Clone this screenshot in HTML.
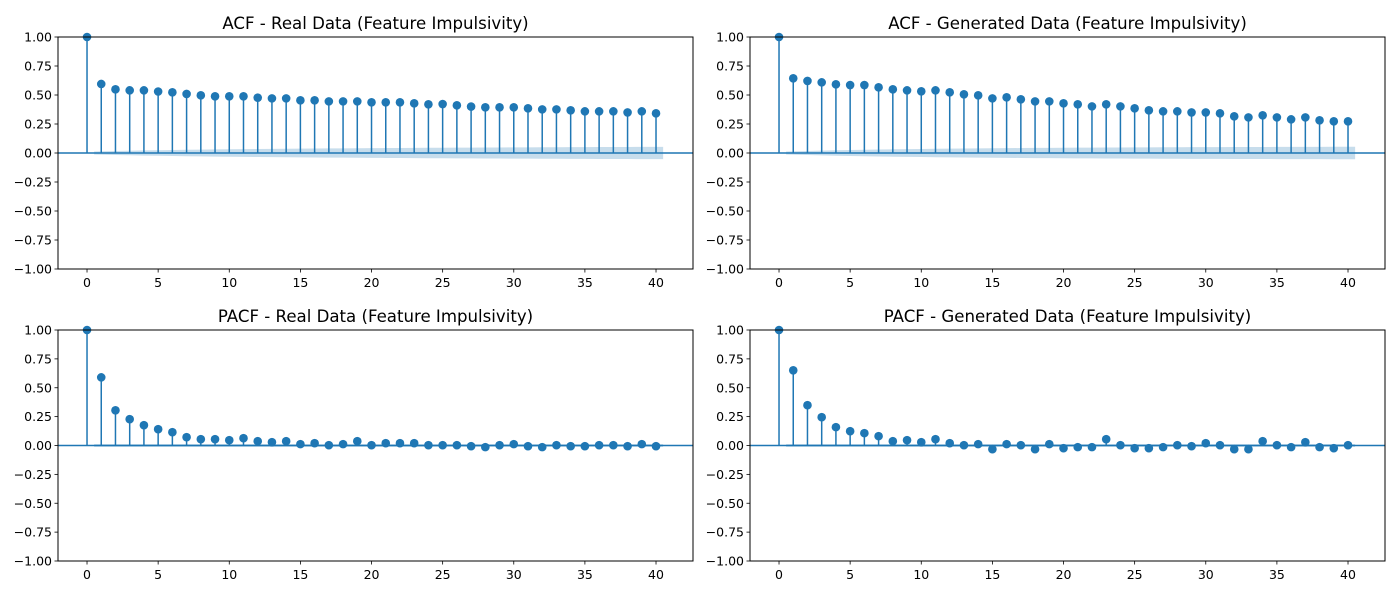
<!DOCTYPE html>
<html><head><meta charset="utf-8"><style>
body{margin:0;background:#fff;font-family:"Liberation Sans","DejaVu Sans",sans-serif}
svg text{font-family:"DejaVu Sans","Liberation Sans",sans-serif}
</style></head><body>
<svg id="fig" width="1400" height="600" xmlns="http://www.w3.org/2000/svg"></svg>
<script>
const lags = [0,1,2,3,4,5,6,7,8,9,10,11,12,13,14,15,16,17,18,19,20,21,22,23,24,25,26,27,28,29,30,31,32,33,34,35,36,37,38,39,40];
const acfReal = [1,.595,.549,.54,.54,.53,.523,.509,.497,.489,.489,.489,.477,.471,.471,.454,.454,.445,.445,.445,.437,.437,.437,.428,.42,.422,.411,.40,.394,.394,.394,.385,.376,.376,.368,.359,.359,.359,.35,.359,.342];
const acfGen = [1,.644,.621,.609,.592,.586,.586,.566,.549,.54,.532,.54,.523,.506,.497,.471,.48,.463,.445,.445,.428,.42,.402,.42,.402,.385,.368,.359,.359,.35,.35,.342,.316,.307,.325,.307,.29,.307,.282,.273,.273];
const pacfReal = [1,.59,.305,.228,.176,.141,.115,.072,.055,.055,.046,.063,.037,.029,.037,.012,.02,.003,.012,.037,.003,.02,.02,.02,.003,.003,.003,-.006,-.014,.003,.012,-.006,-.014,.003,-.006,-.006,.003,.003,-.006,.012,-.006];
const pacfGen = [1,.651,.349,.245,.159,.124,.107,.081,.037,.046,.029,.055,.02,.003,.012,-.032,.012,.003,-.032,.012,-.023,-.014,-.014,.055,.003,-.023,-.023,-.014,.003,-.006,.02,.003,-.032,-.032,.037,.003,-.014,.029,-.014,-.023,.003];
const yTicks = [-1,-0.75,-0.5,-0.25,0,0.25,0.5,0.75,1];
const yTickLabels = ["−1.00","−0.75","−0.50","−0.25","0.00","0.25","0.50","0.75","1.00"];
const xTicks = [0,5,10,15,20,25,30,35,40];
const titles = ["ACF - Real Data (Feature Impulsivity)","ACF - Generated Data (Feature Impulsivity)","PACF - Real Data (Feature Impulsivity)","PACF - Generated Data (Feature Impulsivity)"];
const seriesList = [acfReal, acfGen, pacfReal, pacfGen];
const isAcf = [true,true,false,false];
const panels = [{x0:58,x1:693,y0:37,y1:269,name:'acf-real'},{x0:750,x1:1385,y0:37,y1:269,name:'acf-generated'},{x0:58,x1:693,y0:330,y1:561,name:'pacf-real'},{x0:750,x1:1385,y0:330,y1:561,name:'pacf-generated'}];
const NS="http://www.w3.org/2000/svg";
const svg=document.getElementById('fig');
function mk(tag,attrs,parent){const e=document.createElementNS(NS,tag);for(const k in attrs)e.setAttribute(k,attrs[k]);(parent||svg).appendChild(e);return e;}
const C="#1f77b4", XMIN=-2.04, XMAX=42.6, c=0.013;
panels.forEach((p,i)=>{
  const g=mk('g',{});
  
  
  const sx=v=>p.x0+(v-XMIN)/(XMAX-XMIN)*(p.x1-p.x0);
  const sy=v=>p.y1-(v+1)/2*(p.y1-p.y0);
  const data=seriesList[i];
  let up=[],lo=[];let cum=0;
  for(let k=1;k<lags.length;k++){
    const b=isAcf[i]?c*Math.sqrt(1+2*cum):c;
    if(isAcf[i])cum+=data[k]*data[k];
    const xa=k===1?lags[k]-0.5:lags[k];
    up.push([sx(xa),sy(b)]);lo.push([sx(xa),sy(-b)]);
    if(k===lags.length-1){up.push([sx(lags[k]+0.5),sy(b)]);lo.push([sx(lags[k]+0.5),sy(-b)]);}
  }
  const pts=up.concat(lo.reverse()).map(q=>q.join(',')).join(' ');
  const band=mk('polygon',{points:pts,fill:C,'fill-opacity':0.25,stroke:'none'},g);
  
  
  const zl=mk('line',{x1:p.x0,x2:p.x1,y1:sy(0),y2:sy(0),stroke:C,'stroke-width':1.5},g);
  
  
  lags.forEach((l,k)=>{
    const st=mk('line',{x1:sx(l),x2:sx(l),y1:sy(0),y2:sy(data[k]),stroke:C,'stroke-width':1.5},g);
    
    
    const m=mk('circle',{cx:sx(l),cy:sy(data[k]),r:4.3,fill:C},g);
    
    
  });
  const fr=mk('rect',{x:p.x0,y:p.y0,width:p.x1-p.x0,height:p.y1-p.y0,fill:'none',stroke:'#000','stroke-width':1},g);
  
  
  yTicks.forEach((t,k)=>{
    const y=sy(t);
    mk('line',{x1:p.x0-3.5,x2:p.x0,y1:y,y2:y,stroke:'#000','stroke-width':0.8},g);
    const tx=mk('text',{x:p.x0-6,y:y+4.5,'text-anchor':'end','font-size':12.5,fill:'#000'},g);
    tx.textContent=yTickLabels[k];
    
    
  });
  xTicks.forEach(t=>{
    const x=sx(t);
    mk('line',{x1:x,x2:x,y1:p.y1,y2:p.y1+3.5,stroke:'#000','stroke-width':0.8},g);
    const tx=mk('text',{x:x,y:p.y1+18,'text-anchor':'middle','font-size':12.5,fill:'#000'},g);
    tx.textContent=String(t);
    
    
  });
  const ti=mk('text',{x:(p.x0+p.x1)/2,y:p.y0-8,'text-anchor':'middle','font-size':16.6,fill:'#000'},g);
  ti.textContent=titles[i];
  
  
});
</script>
</body></html>
